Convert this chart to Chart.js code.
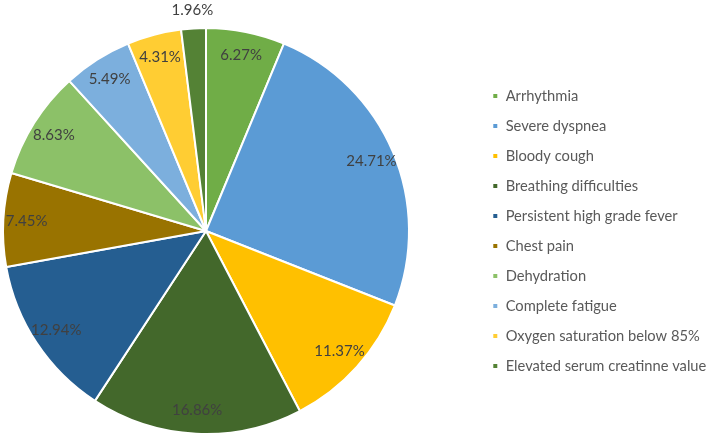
<!DOCTYPE html>
<html>
<head>
<meta charset="utf-8">
<script src="https://cdn.jsdelivr.net/npm/chart.js@4"></script>
<style>
  html, body { margin: 0; padding: 0; background: #fff; }
  #wrap { width: 709px; height: 438px; position: relative; }
</style>
</head>
<body>
<div id="wrap"><canvas id="pie"></canvas></div>
<script>
// symptoms and their share (%)
var symptoms = ['Arrhythmia', 'Severe dyspnea', 'Bloody cough', 'Breathing difficulties',
  'Persistent high grade fever', 'Chest pain', 'Dehydration', 'Complete fatigue',
  'Oxygen saturation below 85%', 'Elevated serum creatinne value'];
var shares = [6.27, 24.71, 11.37, 16.86, 12.94, 7.45, 8.63, 5.49, 4.31, 1.96];
var sliceColors = ['#70AD47', '#5B9BD5', '#FFC000', '#43682B', '#255E91',
  '#997300', '#8CC168', '#7CAFDD', '#FFCD33', '#548235'];

// percent labels, inside the slices except the thin last one
var pctLabels = {
  id: 'pctLabels',
  afterDatasetsDraw: function(chart) {
    var ctx = chart.ctx;
    var arcs = chart.getDatasetMeta(0).data;
    ctx.save();
    ctx.font = '15px Lato';
    ctx.fillStyle = '#404040';
    ctx.textAlign = 'center';
    ctx.textBaseline = 'middle';
    arcs.forEach(function(arc, i) {
      var mid = (arc.startAngle + arc.endAngle) / 2;
      var r = arc.outerRadius * (shares[i] < 3 ? 1.09 : 0.885);
      ctx.fillText(shares[i].toFixed(2) + '%', arc.x + Math.cos(mid) * r, arc.y + Math.sin(mid) * r);
    });
    ctx.restore();
  }
};

// keep the pie on the left part and the legend further right
var legendSpot = {
  id: 'legendSpot',
  beforeLayout: function(chart) {
    var leg = chart.legend;
    if (leg && !leg._fixed) {
      var fit = leg.fit.bind(leg);
      leg.fit = function() { fit(); this.width = 297; };
      leg._fixed = true;
    }
  },
  afterLayout: function(chart) {
    chart.legend.left = 477;
    chart.legend.right = 709;
  }
};

var ctx = document.getElementById('pie').getContext('2d');
var myChart = new Chart(ctx, {
  type: 'pie',
  data: {
    labels: symptoms,
    datasets: [{
      data: shares,
      backgroundColor: sliceColors,
      borderColor: '#ffffff',
      borderWidth: 2
    }]
  },
  options: {
    responsive: true,
    maintainAspectRatio: false,
    animation: false,
    layout: { padding: { top: 27, bottom: 3, left: 0, right: 0 } },
    plugins: {
      tooltip: { enabled: false },
      legend: {
        position: 'right',
        labels: {
          boxWidth: 6,
          boxHeight: 6,
          padding: 15.3,
          color: '#595959',
          font: { family: 'Lato', size: 14.7 }
        }
      }
    }
  },
  plugins: [pctLabels, legendSpot]
});
</script>
</body>
</html>
